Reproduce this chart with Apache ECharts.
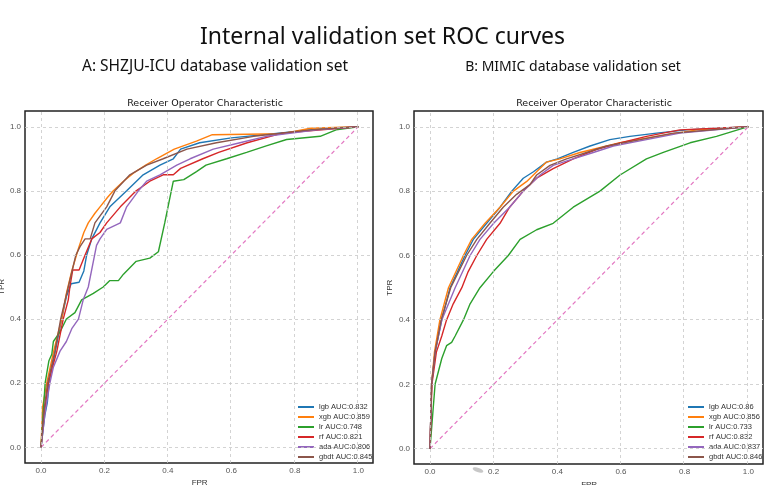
<!DOCTYPE html>
<html>
<head>
<meta charset="utf-8">
<script src="https://cdn.jsdelivr.net/npm/echarts@6/dist/echarts.min.js"></script>
<style>html,body{margin:0;padding:0;background:#fff}#c{width:765px;height:485px}</style>
</head>
<body>
<div id="c"></div>
<script>
// ---------- text ----------
var mainTitle = 'Internal validation set ROC curves';
var subTitleA = 'A: SHZJU-ICU database validation set';
var subTitleB = 'B: MIMIC database validation set';
var plotTitle = 'Receiver Operator Characteristic';
var tickValues = [0, 0.2, 0.4, 0.6, 0.8, 1.0];

// ---------- legend names ----------
var namesA = ['lgb AUC:0.832', 'xgb AUC:0.859', 'lr AUC:0.748', 'rf AUC:0.821', 'ada AUC:0.806', 'gbdt AUC:0.845'];
var namesB = ['lgb AUC:0.86', 'xgb AUC:0.856', 'lr AUC:0.733', 'rf AUC:0.832', 'ada AUC:0.837', 'gbdt AUC:0.846'];

// ---------- A: SHZJU-ICU (FPR, TPR) ----------
var A_lgb = [[0,0],[0.012,0.1],[0.02,0.14],[0.025,0.2],[0.045,0.3],[0.065,0.4],[0.08,0.47],[0.095,0.51],[0.12,0.515],[0.135,0.55],[0.144,0.6],[0.16,0.65],[0.186,0.7],[0.217,0.75],[0.27,0.8],[0.322,0.85],[0.375,0.88],[0.417,0.9],[0.44,0.93],[0.5,0.95],[0.6,0.965],[0.75,0.98],[0.9,0.995],[1,1]];
var A_xgb = [[0,0],[0.005,0.125],[0.018,0.2],[0.04,0.3],[0.055,0.36],[0.065,0.4],[0.08,0.48],[0.097,0.55],[0.118,0.62],[0.135,0.67],[0.149,0.7],[0.17,0.73],[0.186,0.75],[0.21,0.78],[0.228,0.8],[0.26,0.83],[0.291,0.855],[0.33,0.88],[0.364,0.9],[0.42,0.93],[0.49,0.955],[0.54,0.975],[0.76,0.978],[0.85,0.995],[1,1]];
var A_lr = [[0,0],[0.013,0.2],[0.018,0.23],[0.025,0.27],[0.034,0.29],[0.039,0.33],[0.06,0.36],[0.08,0.4],[0.107,0.42],[0.128,0.46],[0.165,0.48],[0.196,0.5],[0.217,0.52],[0.244,0.52],[0.26,0.54],[0.28,0.56],[0.3,0.58],[0.343,0.59],[0.37,0.61],[0.39,0.7],[0.417,0.83],[0.45,0.835],[0.49,0.86],[0.52,0.88],[0.585,0.9],[0.648,0.92],[0.71,0.94],[0.774,0.96],[0.88,0.97],[0.93,0.99],[1,1]];
var A_rf = [[0,0],[0.01,0.1],[0.023,0.2],[0.05,0.3],[0.07,0.4],[0.086,0.46],[0.091,0.5],[0.1,0.553],[0.12,0.553],[0.139,0.6],[0.16,0.65],[0.186,0.67],[0.207,0.7],[0.25,0.75],[0.3,0.8],[0.343,0.83],[0.385,0.85],[0.417,0.85],[0.44,0.87],[0.51,0.9],[0.56,0.92],[0.65,0.95],[0.76,0.98],[1,1]];
var A_ada = [[0,0],[0.013,0.11],[0.028,0.2],[0.039,0.25],[0.06,0.3],[0.08,0.33],[0.097,0.37],[0.118,0.4],[0.133,0.46],[0.149,0.5],[0.175,0.63],[0.186,0.65],[0.207,0.68],[0.25,0.7],[0.27,0.75],[0.307,0.8],[0.333,0.83],[0.375,0.85],[0.428,0.88],[0.47,0.9],[0.543,0.93],[0.627,0.95],[0.71,0.97],[0.87,0.99],[1,1]];
var A_gbdt = [[0,0],[0.01,0.12],[0.021,0.2],[0.044,0.3],[0.062,0.4],[0.086,0.5],[0.11,0.6],[0.123,0.626],[0.139,0.65],[0.155,0.65],[0.17,0.7],[0.207,0.75],[0.233,0.8],[0.28,0.85],[0.333,0.88],[0.385,0.9],[0.46,0.93],[0.553,0.95],[0.67,0.97],[0.85,0.99],[1,1]];

// ---------- B: MIMIC (FPR, TPR) ----------
var B_lgb = [[0,0],[0.005,0.2],[0.016,0.3],[0.037,0.4],[0.063,0.5],[0.11,0.6],[0.136,0.65],[0.178,0.7],[0.22,0.75],[0.257,0.8],[0.293,0.84],[0.325,0.86],[0.366,0.89],[0.4,0.9],[0.45,0.92],[0.503,0.94],[0.565,0.96],[0.628,0.97],[0.712,0.98],[0.806,0.99],[1,1]];
var B_xgb = [[0,0],[0.005,0.2],[0.014,0.3],[0.031,0.4],[0.058,0.5],[0.105,0.6],[0.131,0.65],[0.173,0.7],[0.22,0.75],[0.262,0.8],[0.304,0.83],[0.335,0.86],[0.366,0.89],[0.408,0.9],[0.471,0.92],[0.597,0.95],[0.712,0.97],[0.838,0.99],[1,1]];
var B_lr = [[0,0],[0.016,0.2],[0.037,0.28],[0.052,0.32],[0.068,0.33],[0.079,0.35],[0.105,0.4],[0.126,0.45],[0.157,0.5],[0.199,0.55],[0.246,0.6],[0.283,0.65],[0.335,0.68],[0.387,0.7],[0.45,0.75],[0.534,0.8],[0.597,0.85],[0.68,0.9],[0.733,0.92],[0.817,0.95],[0.9,0.97],[1,1]];
var B_rf = [[0,0],[0.006,0.2],[0.02,0.3],[0.037,0.35],[0.052,0.4],[0.073,0.45],[0.1,0.5],[0.12,0.55],[0.147,0.6],[0.178,0.65],[0.22,0.7],[0.25,0.75],[0.293,0.8],[0.335,0.84],[0.387,0.87],[0.45,0.9],[0.524,0.93],[0.6,0.95],[0.68,0.97],[0.785,0.99],[1,1]];
var B_ada = [[0,0],[0.005,0.2],[0.016,0.3],[0.037,0.4],[0.079,0.5],[0.126,0.6],[0.157,0.65],[0.2,0.7],[0.25,0.75],[0.293,0.8],[0.346,0.85],[0.387,0.88],[0.45,0.9],[0.513,0.92],[0.576,0.94],[0.68,0.96],[0.785,0.98],[1,1]];
var B_gbdt = [[0,0],[0.005,0.2],[0.016,0.3],[0.035,0.4],[0.065,0.5],[0.115,0.6],[0.147,0.65],[0.188,0.7],[0.23,0.75],[0.272,0.79],[0.314,0.82],[0.335,0.85],[0.377,0.88],[0.429,0.9],[0.492,0.92],[0.555,0.94],[0.66,0.96],[0.764,0.98],[1,1]];

var chanceLine = [[0,0],[1,1]];
var colors = ['#1f77b4', '#ff7f0e', '#2ca02c', '#d62728', '#9467bd', '#8c564b'];
var diagColor = '#e377c2';

var seriesA = [A_lgb, A_xgb, A_lr, A_rf, A_ada, A_gbdt];
var seriesB = [B_lgb, B_xgb, B_lr, B_rf, B_ada, B_gbdt];

var FONT = 'DejaVu Sans';
var SMALL = 'Liberation Sans';

function outerAxes(gi) {
  return {
    x: {type:'value', gridIndex:gi, min:-0.05, max:1.05, show:false},
    y: {type:'value', gridIndex:gi, min:-0.05, max:1.05, show:false}
  };
}
function innerAxes(gi, yNameGap) {
  return {
    x: {type:'value', gridIndex:gi, min:0, max:1, interval:0.2,
        name:'FPR', nameLocation:'middle', nameGap:31,
        nameTextStyle:{fontSize:8, color:'#333', fontFamily:SMALL},
        axisLine:{show:false}, axisTick:{show:false}, splitLine:{show:false},
        axisLabel:{margin:19, fontSize:8, color:'#555', fontFamily:SMALL,
          formatter:function(v){return v.toFixed(1);}}},
    y: {type:'value', gridIndex:gi, min:0, max:1, interval:0.2,
        name:'TPR', nameLocation:'middle', nameGap:yNameGap,
        nameTextStyle:{fontSize:8, color:'#333', fontFamily:SMALL},
        axisLine:{show:false}, axisTick:{show:false}, splitLine:{show:false},
        axisLabel:{margin:20, fontSize:8, color:'#555', fontFamily:SMALL,
          formatter:function(v){return v.toFixed(1);}}}
  };
}

var gridLineData = [];
tickValues.forEach(function(v){ gridLineData.push({xAxis:v}); gridLineData.push({yAxis:v}); });

function gridSeries(idx) {
  return {type:'line', xAxisIndex:idx, yAxisIndex:idx, data:[], silent:true,
    markLine:{silent:true, symbol:'none', animation:false,
      label:{show:false},
      lineStyle:{type:[3,3], color:'#c8c8c8', width:0.8},
      data:gridLineData}};
}

var oA = outerAxes(0), iA = innerAxes(1, 35), oB = outerAxes(2), iB = innerAxes(3, 36);

var series = [gridSeries(0), gridSeries(2)];
function addCurves(arr, names, axisIdx) {
  arr.forEach(function(d, i){
    series.push({type:'line', name:names[i], xAxisIndex:axisIdx, yAxisIndex:axisIdx,
      data:d, showSymbol:false, symbol:'none', lineStyle:{color:colors[i], width:1.4},
      itemStyle:{color:colors[i]}, z:3});
  });
  series.push({type:'line', xAxisIndex:axisIdx, yAxisIndex:axisIdx, data:chanceLine,
    showSymbol:false, symbol:'none', lineStyle:{color:diagColor, width:1.2, type:[4,3]}, z:2});
}
addCurves(seriesA, namesA, 1);
addCurves(seriesB, namesB, 3);

function legend(names, left) {
  return {data:names, orient:'vertical', left:left, top:397, itemWidth:16, itemHeight:2,
    itemGap:0, icon:'rect', selectedMode:false,
    textStyle:{fontSize:7.5, color:'#333', fontFamily:SMALL, lineHeight:10}};
}

var option = {
  animation:false,
  backgroundColor:'#fff',
  title:[
    {text:mainTitle, left:'center', top:21, textStyle:{fontSize:23, fontWeight:'normal', color:'#111', fontFamily:'Noto Sans'}},
    {text:subTitleA, left:210, textAlign:'center', top:54, textStyle:{fontSize:15.5, fontWeight:'normal', color:'#111', fontFamily:'Noto Sans'}},
    {text:subTitleB, left:568, textAlign:'center', top:55, textStyle:{fontSize:14, fontWeight:'normal', color:'#111', fontFamily:'Noto Sans'}},
    {text:plotTitle, left:200, textAlign:'center', top:94, textStyle:{fontSize:9.5, fontWeight:'normal', color:'#111', fontFamily:FONT}},
    {text:plotTitle, left:589, textAlign:'center', top:94, textStyle:{fontSize:9.5, fontWeight:'normal', color:'#111', fontFamily:FONT}}
  ],
  grid:[
    {left:25, top:111, width:348, height:352, show:true, borderColor:'#222', borderWidth:1.5, backgroundColor:'#fff', outerBoundsMode:'none', containLabel:false},
    {left:41, top:126.7, width:317.3, height:320.6, outerBoundsMode:'none', containLabel:false},
    {left:414, top:111, width:349, height:353, show:true, borderColor:'#222', borderWidth:1.5, backgroundColor:'#fff', outerBoundsMode:'none', containLabel:false},
    {left:430, top:126.7, width:318.3, height:322, outerBoundsMode:'none', containLabel:false}
  ],
  xAxis:[oA.x, iA.x, oB.x, iB.x],
  yAxis:[oA.y, iA.y, oB.y, iB.y],
  legend:[legend(namesA, 293), legend(namesB, 683)],
  graphic:[
    {type:'ellipse', shape:{cx:0, cy:0, rx:5.5, ry:2.2}, x:478, y:470, rotation:-0.3,
     style:{fill:'#bdbdbd', opacity:0.85}, silent:true, z:10}
  ],
  series:series
};

var chart = echarts.init(document.getElementById('c'), null, {renderer:'canvas'});
chart.setOption(option);
</script>
</body>
</html>
